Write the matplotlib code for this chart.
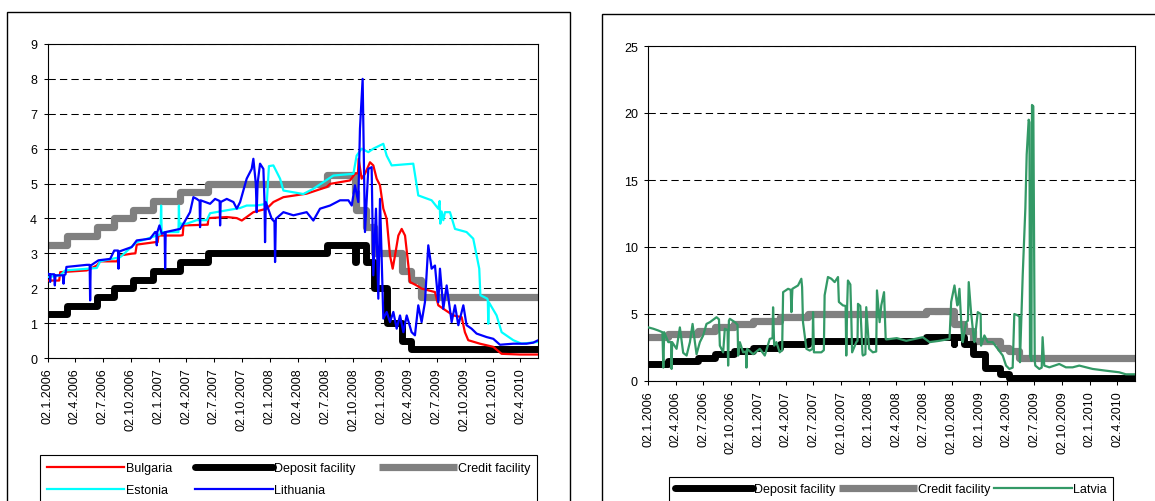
import numpy as np
import pandas as pd
import matplotlib
matplotlib.use("Agg")
import matplotlib.pyplot as plt
from matplotlib.patches import Rectangle

plt.rcParams['font.family'] = ['Liberation Sans', 'DejaVu Sans']

# ---------------- data ----------------
tick_labels = ['02.1.2006', '02.4.2006', '02.7.2006', '02.10.2006', '02.1.2007', '02.4.2007',
               '02.7.2007', '02.10.2007', '02.1.2008', '02.4.2008', '02.7.2008', '02.10.2008',
               '02.1.2009', '02.4.2009', '02.7.2009', '02.10.2009', '02.1.2010', '02.4.2010']

# ECB standing facilities (step series)
rate_dates = ['2006-01-02', '2006-03-08', '2006-06-15', '2006-08-09', '2006-10-11', '2006-12-13',
              '2007-03-14', '2007-06-13', '2008-07-09', '2008-10-08', '2008-10-09', '2008-11-12',
              '2008-12-10', '2009-01-21', '2009-03-11', '2009-04-08', '2009-05-13', '2010-05-31']
deposit = [1.25, 1.50, 1.75, 2.00, 2.25, 2.50, 2.75, 3.00, 3.25, 2.75, 3.25, 2.75,
           2.00, 1.00, 0.50, 0.25, 0.25, 0.25]
credit = [3.25, 3.50, 3.75, 4.00, 4.25, 4.50, 4.75, 5.00, 5.25, 4.75, 4.25, 3.75,
          3.00, 3.00, 2.50, 2.25, 1.75, 1.75]

# Bulgaria (x in decimal years from 02.1.2006)
bg_t = [2006.000, 2006.105, 2006.114, 2006.353, 2006.443, 2006.473, 2006.623, 2006.653, 2006.757,
        2006.790, 2006.802, 2006.967, 2006.990, 2006.997, 2007.192, 2007.215, 2007.222, 2007.431,
        2007.440, 2007.446, 2007.611, 2007.701, 2007.746, 2007.850, 2007.970, 2008.030, 2008.120,
        2008.329, 2008.509, 2008.539, 2008.719, 2008.763, 2008.790, 2008.796, 2008.823, 2008.853,
        2008.898, 2008.928, 2008.958, 2008.988, 2009.018, 2009.048, 2009.078, 2009.102, 2009.123,
        2009.153, 2009.183, 2009.213, 2009.243, 2009.257, 2009.317, 2009.362, 2009.422, 2009.482,
        2009.512, 2009.557, 2009.647, 2009.722, 2009.751, 2009.781, 2009.886, 2010.006, 2010.081,
        2010.246, 2010.410]
bg_v = [2.22, 2.22, 2.46, 2.51, 2.65, 2.77, 2.77, 2.94, 2.99,
        3.00, 3.25, 3.32, 3.32, 3.51, 3.51, 3.52, 3.80, 3.82,
        3.82, 4.01, 4.04, 4.01, 3.94, 4.18, 4.28, 4.47, 4.61,
        4.71, 4.90, 4.99, 5.09, 5.28, 5.30, 5.71, 5.14, 5.28,
        5.61, 5.52, 5.14, 4.95, 4.28, 3.99, 2.94, 2.56, 2.94,
        3.51, 3.70, 3.51, 2.65, 2.18, 2.08, 1.99, 1.94, 1.89,
        1.51, 1.41, 1.22, 1.17, 0.74, 0.51, 0.41, 0.32, 0.12,
        0.10, 0.10]

# Estonia
ee_t = [2006.000, 2006.114, 2006.159, 2006.443, 2006.473, 2006.653, 2006.802, 2006.982, 2007.016,
        2007.021, 2007.026, 2007.177, 2007.181, 2007.185, 2007.195, 2007.251, 2007.341, 2007.431,
        2007.461, 2007.731, 2007.790, 2007.880, 2007.970, 2007.990, 2008.030, 2008.090, 2008.120,
        2008.299, 2008.389, 2008.479, 2008.569, 2008.749, 2008.778, 2008.823, 2008.883, 2008.928,
        2009.018, 2009.048, 2009.093, 2009.287, 2009.332, 2009.452, 2009.512, 2009.524, 2009.530,
        2009.542, 2009.557, 2009.572, 2009.617, 2009.662, 2009.766, 2009.826, 2009.880, 2009.890,
        2009.952, 2009.957, 2009.961, 2009.966, 2010.036, 2010.081, 2010.186, 2010.260, 2010.410]
ee_v = [2.32, 2.37, 2.51, 2.58, 2.77, 2.89, 3.32, 3.51, 3.55,
        4.37, 3.61, 3.61, 4.37, 3.80, 3.85, 3.85, 3.95, 3.95,
        4.15, 4.30, 4.37, 4.37, 4.42, 5.50, 5.52, 5.14, 4.80,
        4.70, 4.85, 5.04, 5.23, 5.28, 5.80, 6.00, 5.90, 6.00,
        6.14, 5.80, 5.52, 5.57, 4.66, 4.52, 4.28, 4.50, 3.85,
        4.20, 3.95, 4.18, 4.18, 3.70, 3.61, 3.42, 2.56, 1.80,
        1.70, 1.65, 0.98, 1.60, 1.22, 0.74, 0.51, 0.41, 0.46]

# Lithuania
lt_t = [2006.000, 2006.020, 2006.024, 2006.028, 2006.060, 2006.066, 2006.072, 2006.138, 2006.144,
        2006.150, 2006.162, 2006.170, 2006.353, 2006.379, 2006.383, 2006.388, 2006.458, 2006.563,
        2006.600, 2006.634, 2006.638, 2006.643, 2006.757, 2006.802, 2006.922, 2006.967, 2006.978,
        2006.982, 2006.987, 2007.006, 2007.027, 2007.053, 2007.057, 2007.062, 2007.192, 2007.222,
        2007.281, 2007.311, 2007.341, 2007.367, 2007.371, 2007.376, 2007.461, 2007.506, 2007.547,
        2007.551, 2007.556, 2007.611, 2007.671, 2007.701, 2007.731, 2007.790, 2007.835, 2007.850,
        2007.872, 2007.880, 2007.888, 2007.910, 2007.940, 2007.950, 2007.955, 2007.962, 2008.015,
        2008.040, 2008.045, 2008.052, 2008.120, 2008.210, 2008.329, 2008.389, 2008.449, 2008.539,
        2008.629, 2008.704, 2008.734, 2008.763, 2008.793, 2008.808, 2008.832, 2008.853, 2008.883,
        2008.913, 2008.928, 2008.952, 2008.973, 2008.988, 2009.018, 2009.048, 2009.078, 2009.108,
        2009.138, 2009.168, 2009.198, 2009.228, 2009.272, 2009.302, 2009.332, 2009.362, 2009.392,
        2009.422, 2009.452, 2009.482, 2009.512, 2009.527, 2009.557, 2009.587, 2009.632, 2009.662,
        2009.692, 2009.737, 2009.766, 2009.811, 2009.856, 2009.946, 2010.006, 2010.066, 2010.186,
        2010.305, 2010.365, 2010.410]
lt_v = [2.42, 2.40, 2.18, 2.40, 2.40, 2.08, 2.37, 2.37, 2.13,
        2.37, 2.40, 2.61, 2.67, 2.67, 1.65, 2.65, 2.80, 2.84,
        3.08, 3.08, 2.56, 3.05, 3.18, 3.37, 3.42, 3.61, 3.61,
        3.23, 3.61, 3.80, 3.56, 3.60, 2.56, 3.61, 3.70, 3.85,
        4.18, 4.61, 4.56, 4.50, 3.75, 4.52, 4.42, 4.56, 4.50,
        3.80, 4.47, 4.56, 4.47, 4.28, 4.47, 5.14, 5.42, 5.71,
        5.00, 4.18, 5.00, 5.57, 5.42, 4.50, 3.32, 4.47, 3.99,
        3.90, 2.75, 3.99, 4.18, 4.09, 4.18, 3.94, 4.28, 4.37,
        4.52, 4.52, 4.37, 4.95, 4.47, 6.57, 8.00, 3.61, 5.42,
        5.47, 2.37, 4.28, 1.70, 4.56, 1.13, 1.32, 1.03, 1.32,
        0.84, 1.22, 0.74, 1.22, 0.74, 0.65, 1.51, 1.03, 1.60,
        3.23, 2.56, 2.65, 1.60, 2.56, 1.41, 2.08, 1.03, 1.51,
        0.94, 1.51, 0.94, 0.84, 0.70, 0.60, 0.55, 0.38, 0.41,
        0.41, 0.44, 0.51]

# Latvia
lv_t = [2006.000, 2006.045, 2006.090, 2006.128, 2006.136, 2006.144, 2006.181, 2006.207, 2006.211,
        2006.216, 2006.256, 2006.286, 2006.316, 2006.347, 2006.377, 2006.401, 2006.422, 2006.437,
        2006.467, 2006.497, 2006.527, 2006.558, 2006.618, 2006.640, 2006.648, 2006.678, 2006.693,
        2006.718, 2006.723, 2006.730, 2006.738, 2006.784, 2006.808, 2006.814, 2006.829, 2006.859,
        2006.884, 2006.889, 2006.895, 2006.949, 2007.010, 2007.055, 2007.100, 2007.125, 2007.130,
        2007.140, 2007.160, 2007.190, 2007.212, 2007.221, 2007.266, 2007.290, 2007.296, 2007.305,
        2007.356, 2007.386, 2007.393, 2007.401, 2007.432, 2007.462, 2007.488, 2007.492, 2007.500,
        2007.567, 2007.590, 2007.597, 2007.627, 2007.658, 2007.688, 2007.718, 2007.726, 2007.763,
        2007.787, 2007.793, 2007.801, 2007.808, 2007.830, 2007.838, 2007.846, 2007.884, 2007.895,
        2007.899, 2007.920, 2007.929, 2007.940, 2007.944, 2007.966, 2007.974, 2008.000, 2008.034,
        2008.064, 2008.071, 2008.095, 2008.110, 2008.135, 2008.140, 2008.150, 2008.155, 2008.250,
        2008.336, 2008.486, 2008.547, 2008.637, 2008.728, 2008.743, 2008.773, 2008.798, 2008.803,
        2008.818, 2008.843, 2008.848, 2008.878, 2008.895, 2008.902, 2008.923, 2008.950, 2008.954,
        2008.984, 2009.010, 2009.014, 2009.044, 2009.074, 2009.119, 2009.165, 2009.210, 2009.240,
        2009.270, 2009.300, 2009.315, 2009.345, 2009.362, 2009.366, 2009.391, 2009.415, 2009.427,
        2009.445, 2009.452, 2009.457, 2009.470, 2009.475, 2009.487, 2009.500, 2009.505, 2009.541,
        2009.563, 2009.571, 2009.586, 2009.632, 2009.722, 2009.782, 2009.843, 2009.903, 2010.024,
        2010.144, 2010.265, 2010.325, 2010.409]
lv_v = [4.00, 3.90, 3.77, 3.64, 1.00, 3.64, 2.90, 2.90, 0.90,
        2.90, 2.40, 4.00, 2.10, 1.90, 2.90, 4.26, 2.90, 2.00,
        2.90, 3.40, 4.26, 4.39, 4.76, 4.60, 2.64, 2.14, 3.90,
        3.80, 1.15, 4.50, 4.64, 4.39, 4.20, 1.90, 2.90, 2.14,
        2.20, 1.00, 2.40, 2.00, 2.40, 1.90, 3.14, 3.20, 5.50,
        2.64, 2.90, 2.14, 2.30, 6.63, 6.88, 6.80, 5.14, 6.88,
        7.13, 7.63, 7.00, 4.40, 2.40, 2.27, 2.40, 5.14, 2.14,
        2.14, 2.30, 6.40, 7.76, 7.63, 7.38, 7.76, 5.90, 5.64,
        5.60, 1.90, 5.60, 7.50, 7.20, 4.90, 2.14, 2.90, 3.00,
        5.76, 5.60, 3.90, 2.00, 1.90, 2.00, 5.51, 2.40, 2.14,
        2.20, 6.76, 4.39, 5.64, 6.63, 5.50, 3.14, 3.10, 3.20,
        3.00, 3.27, 2.90, 3.00, 3.14, 5.90, 7.13, 5.64, 5.70,
        6.88, 3.00, 2.90, 4.39, 4.50, 7.38, 5.14, 3.00, 2.90,
        5.14, 5.00, 2.64, 3.40, 2.90, 2.90, 2.40, 1.90, 1.15,
        0.90, 1.00, 5.00, 4.90, 4.80, 1.40, 7.90, 12.90, 16.90,
        19.50, 19.30, 1.90, 1.50, 20.60, 20.50, 1.50, 1.15, 0.90,
        1.00, 3.27, 1.15, 1.02, 1.27, 1.02, 1.02, 1.15, 0.90,
        0.77, 0.65, 0.50, 0.50]

START = pd.Timestamp('2006-01-02')
END = pd.Timestamp('2010-05-31')


def yr2date(arr):
    return START + pd.to_timedelta((np.asarray(arr, dtype=float) - 2006.0) * 365.25, unit='D')


tick_dates = pd.to_datetime(tick_labels, format='%d.%m.%Y')
r_dates = pd.to_datetime(rate_dates)

# ---------------- figure ----------------
W, H = 1155, 502
fig = plt.figure(figsize=(W / 100, H / 100), dpi=100)


def rect(x0, x1, y0, y1):
    return [x0 / W, 1 - y1 / H, (x1 - x0) / W, (y1 - y0) / H]


# outer frames (panels)
fig.add_artist(Rectangle((7 / W, -0.1), (570 - 7) / W, 1 - 13 / H + 0.1, transform=fig.transFigure,
                         fill=False, edgecolor='black', lw=1.0))
fig.add_artist(Rectangle((602 / W, -0.1), 1.0, 1 - 15 / H + 0.1, transform=fig.transFigure,
                         fill=False, edgecolor='black', lw=1.0))

axL = fig.add_axes(rect(47.5, 538, 45, 359))
axR = fig.add_axes(rect(648.3, 1135, 47, 382))

DEP_KW = dict(color='black', lw=5.0, solid_capstyle='round', solid_joinstyle='round', zorder=3)
CRE_KW = dict(color='#808080', lw=5.2, solid_capstyle='butt', zorder=2)


def style(ax, ymax, step):
    ax.set_xlim(START, END)
    ax.set_ylim(0, ymax)
    ax.set_yticks(np.arange(0, ymax + step / 2, step))
    ax.set_xticks(tick_dates)
    ax.set_xticklabels(tick_labels, rotation=90)
    ax.tick_params(axis='both', direction='out', length=3, width=0.75, labelsize=9, color='black')
    ax.tick_params(axis='y', pad=4.5)
    ax.tick_params(axis='x', pad=3.5)
    for s in ax.spines.values():
        s.set_linewidth(0.8)
        s.set_color('black')
    ax.grid(axis='y', color='black', lw=0.75, ls=(0, (7, 4)), zorder=1)
    ax.set_axisbelow(True)


# ---- left panel ----
l_dep, = axL.step(r_dates, deposit, where='post', label='Deposit facility', **DEP_KW)
l_cre, = axL.step(r_dates, credit, where='post', label='Credit facility', **CRE_KW)
l_bg, = axL.plot(yr2date(bg_t), bg_v, color='#ff0000', lw=1.6, label='Bulgaria', zorder=4)
l_ee, = axL.plot(yr2date(ee_t), ee_v, color='#00ffff', lw=1.6, label='Estonia', zorder=5)
l_lt, = axL.plot(yr2date(lt_t), lt_v, color='#0000ff', lw=1.6, label='Lithuania', zorder=6)
style(axL, 9, 1)

legL = fig.legend([l_bg, l_ee, l_dep, l_lt, l_cre],
                  ['Bulgaria', 'Estonia', 'Deposit facility', 'Lithuania', 'Credit facility'],
                  loc='upper left', bbox_to_anchor=(40 / W, 0, (537 - 40) / W, 1 - 456 / H),
                  mode='expand', ncol=3, fontsize=9, handlelength=6.2, handletextpad=0.1,
                  borderpad=0.55, labelspacing=0.8, borderaxespad=0, fancybox=False,
                  edgecolor='black', framealpha=1)
legL.get_frame().set_linewidth(0.8)

# ---- right panel ----
r_dep, = axR.step(r_dates, deposit, where='post', label='Deposit facility', **DEP_KW)
r_cre, = axR.step(r_dates, credit, where='post', label='Credit facility', **CRE_KW)
r_lv, = axR.plot(yr2date(lv_t), lv_v, color='#339966', lw=1.6, label='Latvia', zorder=4)
style(axR, 25, 5)

legR = fig.legend([r_dep, r_cre, r_lv], ['Deposit facility', 'Credit facility', 'Latvia'],
                  loc='upper left', bbox_to_anchor=(669 / W, 0, (1113 - 669) / W, 1 - 478 / H),
                  mode='expand', ncol=3, fontsize=9, handlelength=6.2, handletextpad=0.1,
                  borderpad=0.5, borderaxespad=0, fancybox=False, edgecolor='black',
                  framealpha=1)
legR.get_frame().set_linewidth(0.8)

fig.savefig('out.png', dpi=100)
